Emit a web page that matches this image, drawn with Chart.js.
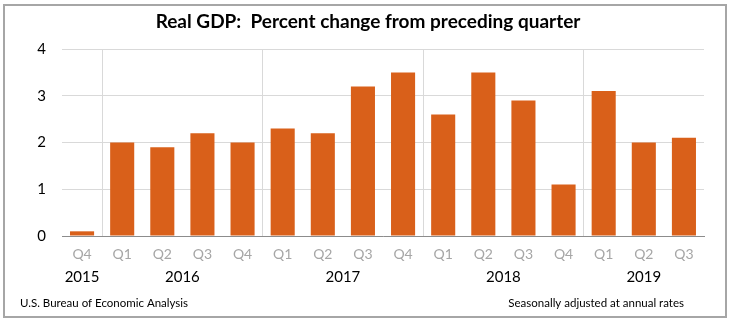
<!DOCTYPE html>
<html lang="en">
<head>
  <meta charset="UTF-8">
  <title>Real GDP</title>
  <script src="https://cdn.jsdelivr.net/npm/chart.js"></script>
  <style>
    html, body { margin: 0; padding: 0; background: #fff; }
    #wrap { width: 734px; height: 324px; }
  </style>
</head>
<body>
  <div id="wrap"><canvas id="gdpChart" width="734" height="324"></canvas></div>
  <script>
    // data
    const quarters = ['Q4', 'Q1', 'Q2', 'Q3', 'Q4', 'Q1', 'Q2', 'Q3', 'Q4', 'Q1', 'Q2', 'Q3', 'Q4', 'Q1', 'Q2', 'Q3'];
    const years = ['2015', '2016', '2017', '2018', '2019'];
    const yearStart = [0, 1, 5, 9, 13];   // first bar index of each year
    const yearCount = [1, 4, 4, 4, 3];
    const gdpChange = [0.1, 2.0, 1.9, 2.2, 2.0, 2.3, 2.2, 3.2, 3.5, 2.6, 3.5, 2.9, 1.1, 3.1, 2.0, 2.1];
    const yTicks = [0, 1, 2, 3, 4];

    const FONT = 'Lato, "Open Sans", sans-serif';

    const extras = {
      id: 'extras',
      afterDraw(chart) {
        const ctx = chart.ctx;
        const x = chart.scales.x;
        ctx.save();
        // title, centred on the whole picture
        ctx.font = 'bold 19px ' + FONT;
        ctx.fillStyle = '#000';
        ctx.textAlign = 'center';
        ctx.textBaseline = 'middle';
        ctx.fillText('Real GDP:  Percent change from preceding quarter', 368, 22);
        // year labels under the quarter ticks
        ctx.font = '15px ' + FONT;
        years.forEach((y, i) => {
          const a = x.getPixelForValue(yearStart[i]);
          const b = x.getPixelForValue(yearStart[i] + yearCount[i] - 1);
          ctx.fillText(y, (a + b) / 2, 277);
        });
        // footer notes
        ctx.font = '11.5px ' + FONT;
        ctx.textAlign = 'left';
        ctx.fillText('U.S. Bureau of Economic Analysis', 20, 303);
        ctx.textAlign = 'right';
        ctx.fillText('Seasonally adjusted at annual rates', 684, 303);
        // frame
        ctx.strokeStyle = '#a6a6a6';
        ctx.lineWidth = 2;
        ctx.strokeRect(4, 5, 722, 312);
        ctx.restore();
      }
    };

    new Chart(document.getElementById('gdpChart'), {
      type: 'bar',
      data: {
        labels: quarters,
        datasets: [{
          data: gdpChange,
          backgroundColor: '#d9601a',
          categoryPercentage: 1.0,
          barPercentage: 0.6
        }]
      },
      options: {
        responsive: false,
        animation: false,
        layout: { padding: { left: 0, right: 30, top: 49, bottom: 0 } },
        plugins: {
          legend: { display: false },
          tooltip: { enabled: false },
          title: { display: false }
        },
        scales: {
          x: {
            grid: {
              offset: true,
              drawTicks: false,
              color: c => yearStart.includes(c.index) && c.index > 0 ? '#d9d9d9' : 'rgba(0,0,0,0)',
              lineWidth: 1
            },
            border: { color: '#8c8c8c', width: 1 },
            ticks: { color: '#a6a6a6', font: { family: FONT, size: 14 }, padding: 10 },
            afterFit: s => { s.height = 88; }
          },
          y: {
            min: 0,
            max: 4,
            afterBuildTicks: s => { s.ticks = yTicks.map(v => ({ value: v })); },
            grid: { color: '#d9d9d9', drawTicks: false },
            border: { display: false },
            ticks: { color: '#000', font: { family: FONT, size: 15 }, padding: 16 },
            afterFit: s => { s.width = 62; }
          }
        }
      },
      plugins: [extras]
    });
  </script>
</body>
</html>
